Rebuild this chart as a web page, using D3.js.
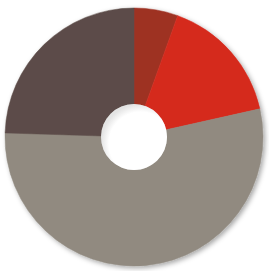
<!DOCTYPE html>
<html><head><meta charset="utf-8">
<script src="https://cdn.jsdelivr.net/npm/d3@7"></script>
<style>html,body{margin:0;padding:0;background:#fff;}svg{display:block;}</style>
</head><body>
<svg id="chart" width="269" height="271"></svg>
<script>
const categories = ["A", "B", "C", "D"];
const values = [5.5, 16, 54, 24.5];
const colors = ["#9e3224", "#d52b1e", "#918a80", "#5c4c48"];

const svg = d3.select("#chart");
const cx = 134, cy = 137, outerR = 129, innerR = 33;

const defs = svg.append("defs");
const f = defs.append("filter").attr("id", "shadow").attr("x", "-20%").attr("y", "-20%").attr("width", "140%").attr("height", "140%");
f.append("feDropShadow").attr("dx", 2).attr("dy", 2).attr("stdDeviation", 2.5).attr("flood-color", "#000").attr("flood-opacity", 0.35);

const inner = defs.append("radialGradient").attr("id", "hole").attr("cx", "60%").attr("cy", "60%").attr("r", "60%");
inner.append("stop").attr("offset", "80%").attr("stop-color", "#fff");
inner.append("stop").attr("offset", "100%").attr("stop-color", "#e4e4e4");

const pie = d3.pie().sort(null).value(d => d.v);
const arc = d3.arc().innerRadius(innerR).outerRadius(outerR);
const data = pie(categories.map((c, i) => ({c, v: values[i]})));

const g = svg.append("g").attr("transform", `translate(${cx},${cy})`);
g.append("g").attr("filter", "url(#shadow)")
  .selectAll("path").data(data).join("path")
  .attr("d", arc)
  .attr("fill", (d, i) => colors[i])
  .attr("stroke", (d, i) => colors[i])
  .attr("stroke-width", 0.5);

g.append("circle").attr("r", innerR).attr("fill", "url(#hole)");
</script>
</body></html>
